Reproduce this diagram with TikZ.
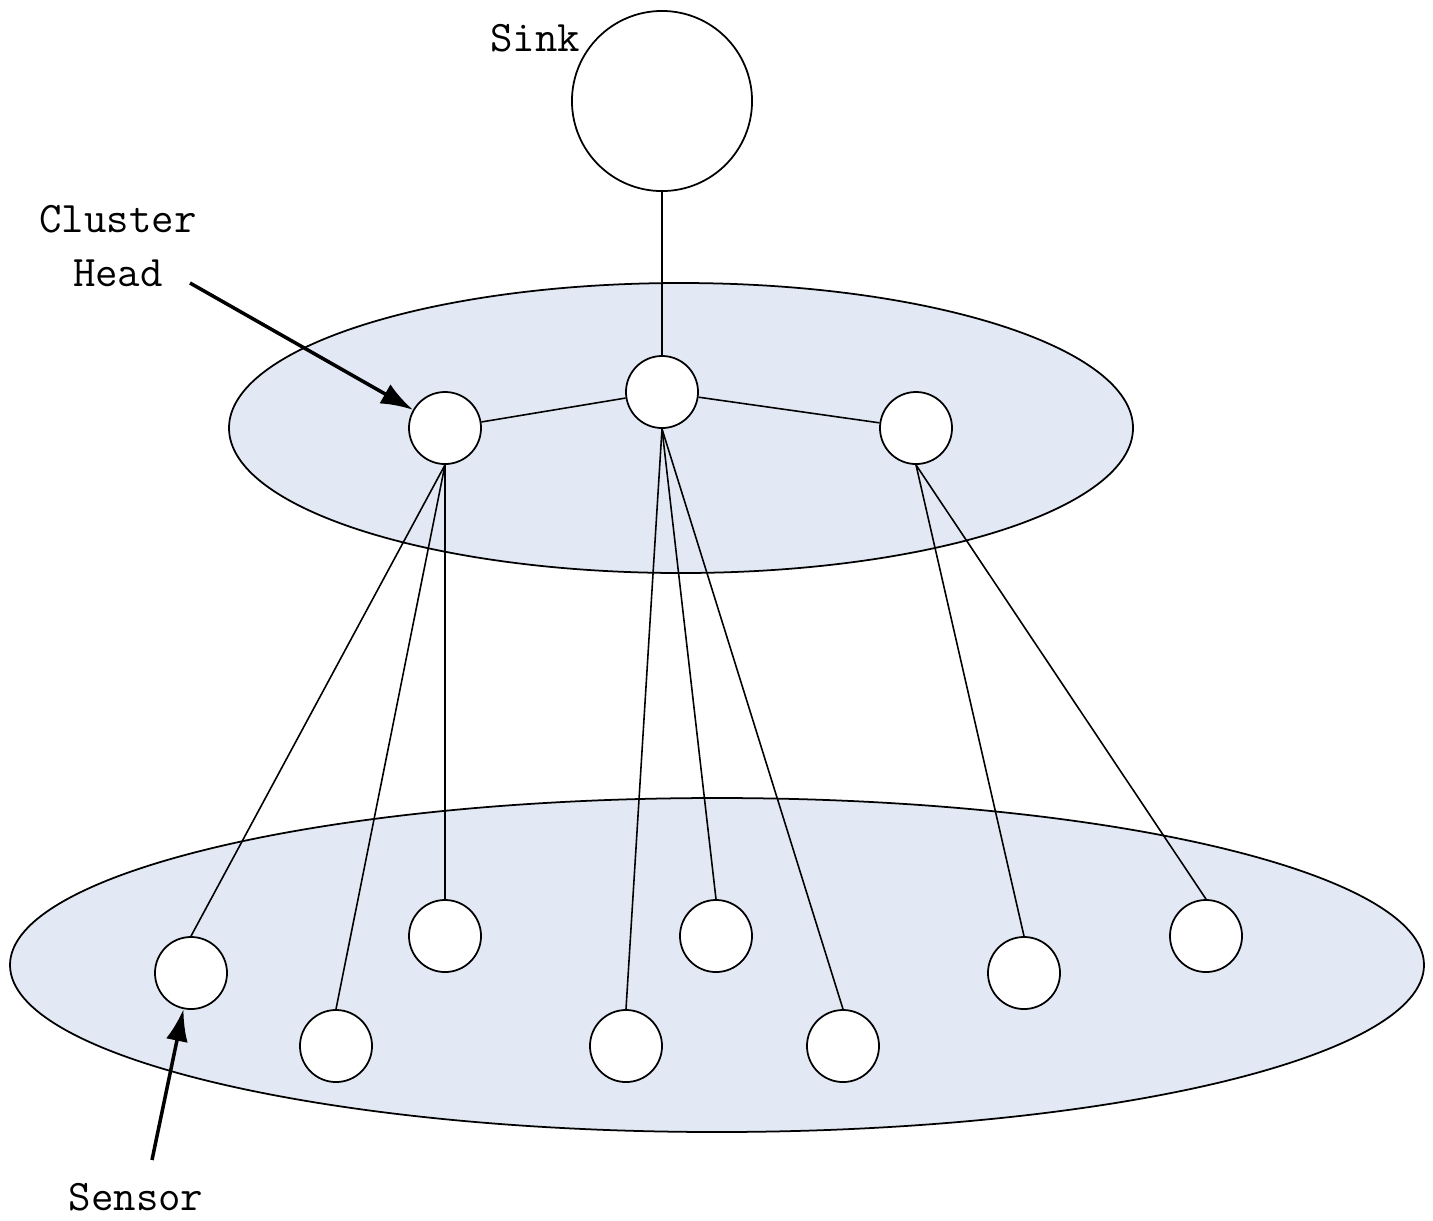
\documentclass[tikz,border=0pt]{standalone}
\usetikzlibrary{arrows.meta}
\definecolor{layerblue}{RGB}{226,232,244}
\begin{document}
\begin{tikzpicture}[x=0.01cm,y=-0.01cm,
    nd/.style={circle,draw,fill=white,line width=0.5pt,minimum size=0.72cm,inner sep=0pt},
    link/.style={line width=0.45pt},
    label/.style={font=\fontsize{12.4}{15.4}\selectfont\ttfamily},
    pointer/.style={line width=1pt,-{Latex[length=0.32cm,width=0.22cm]}}]
    \useasboundingbox (0,0) rectangle (1433,1220);
    % the two layers
    \draw[fill=layerblue,line width=0.5pt] (681,428) ellipse (452 and 145);
    \draw[fill=layerblue,line width=0.5pt] (717,965) ellipse (707 and 167);
    % sink
    \node[circle,draw,fill=white,line width=0.5pt,minimum size=1.8cm] (sink) at (662,101) {};
    \node[label] (sinklbl) at (535,38) {Sink};
    % cluster heads
    \node[nd] (ch1) at (445,428) {};
    \node[nd] (ch2) at (662,392) {};
    \node[nd] (ch3) at (916,428) {};
    % sensors
    \node[nd] (s1) at (191,973) {};
    \node[nd] (s2) at (336,1046) {};
    \node[nd] (s3) at (445,936) {};
    \node[nd] (s4) at (626,1046) {};
    \node[nd] (s5) at (716,936) {};
    \node[nd] (s6) at (843,1046) {};
    \node[nd] (s7) at (1024,973) {};
    \node[nd] (s8) at (1206,936) {};
    % links
    \draw[link] (sink) -- (ch2);
    \draw[link] (ch2) -- (ch1);
    \draw[link] (ch2) -- (ch3);
    \foreach \s in {s1,s2,s3}
        \draw[link] (ch1.south) -- (\s.north);
    \foreach \s in {s4,s5,s6}
        \draw[link] (ch2.south) -- (\s.north);
    \foreach \s in {s7,s8}
        \draw[link] (ch3.south) -- (\s.north);
    % labels with arrows
    \node[label,align=center] (chlbl) at (118,246) {Cluster\\Head};
    \coordinate (chtail) at (190,283);
    \draw[pointer] (chtail) -- (ch1);
    \node[label] (senslbl) at (136,1197) {Sensor};
    \coordinate (senstail) at (152,1160);
    \draw[pointer] (senstail) -- (s1);
\end{tikzpicture}
\end{document}
